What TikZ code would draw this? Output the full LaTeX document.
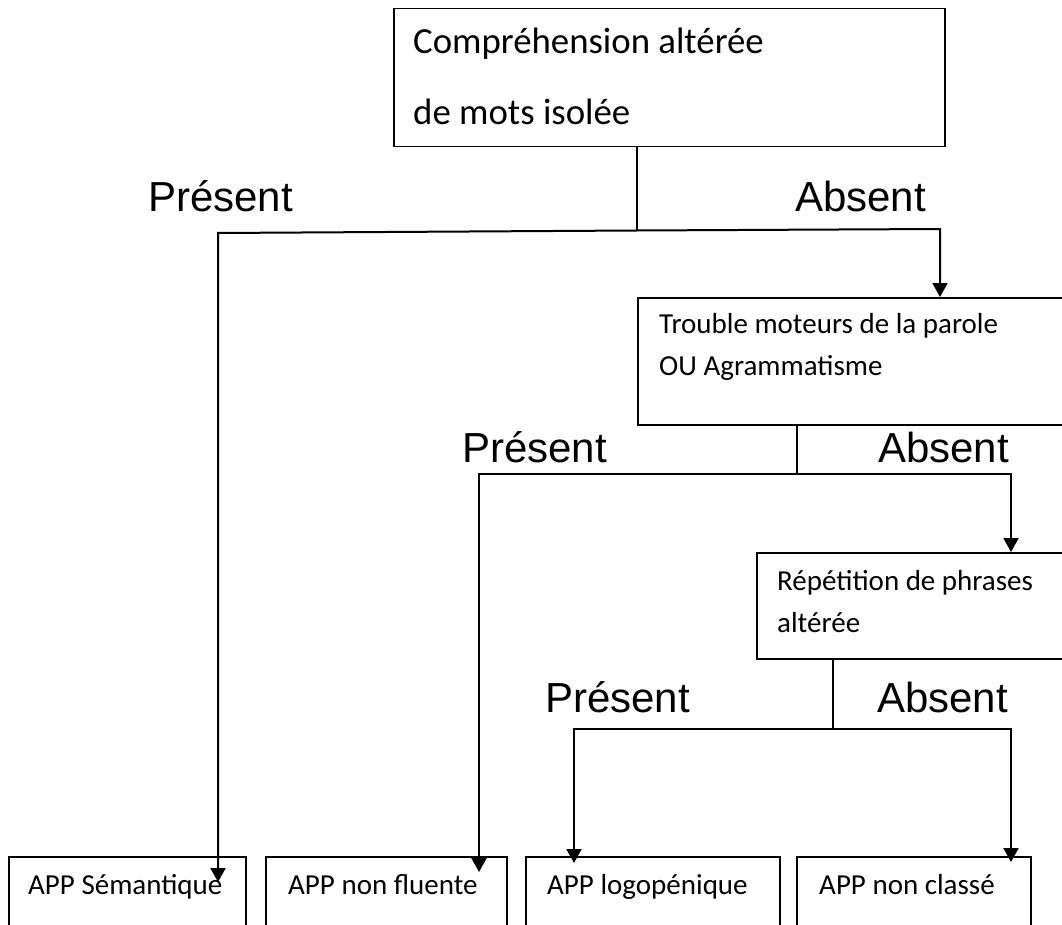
\documentclass[tikz,border=0pt]{standalone}
\usepackage{fontspec}
\setmainfont{Carlito}
\newfontfamily\arialf{Liberation Sans}
\usetikzlibrary{arrows.meta}
\begin{document}
\begin{tikzpicture}[x=1pt,y=-1pt,
  box/.style={draw,line width=1.5pt,rectangle,inner sep=0pt,anchor=north west},
  txt/.style={anchor=base west,inner sep=0pt,font=\fontsize{29}{35}\selectfont},
  bigtxt/.style={anchor=base west,inner sep=0pt,font=\fontsize{36.8}{44}\selectfont},
  lbl/.style={anchor=base west,inner sep=0pt,font=\arialf\fontsize{42}{50}\selectfont},
  conn/.style={line width=2pt},
  arr/.style={line width=2pt,-{Triangle[length=14pt,width=15pt]}}]
\useasboundingbox (0,0) rectangle (1062,925);
\clip (0,0) rectangle (1062,925);
% boxes
\node[box,minimum width=551pt,minimum height=138pt] (top) at (393,8) {};
\node[box,minimum width=440pt,minimum height=127pt] (trouble) at (637,297) {};
\node[box,minimum width=320pt,minimum height=106pt] (repet) at (756,552) {};
\node[box,minimum width=237pt,minimum height=100pt] (sem) at (8,856) {};
\node[box,minimum width=241pt,minimum height=100pt] (nonflu) at (265,856) {};
\node[box,minimum width=254pt,minimum height=100pt] (logo) at (525,856) {};
\node[box,minimum width=234pt,minimum height=100pt] (noncl) at (796,856) {};
% texts
\node[bigtxt] (tA) at (413,54) {Compréhension altérée};
\node[bigtxt] (tB) at (413,125) {de mots isolée};
\node[txt] (trA) at (659,333) {Trouble moteurs de la parole};
\node[txt] (trB) at (659,375) {OU Agrammatisme};
\node[txt] (reA) at (777,590) {Répétition de phrases};
\node[txt] (reB) at (777,632) {altérée};
\node[txt] (semT) at (28,894) {APP Sémantique};
\node[txt] (nfT) at (288,894) {APP non fluente};
\node[txt] (lgT) at (547,894) {APP logopénique};
\node[txt] (ncT) at (819,894) {APP non classé};
% labels
\node[lbl] (p1) at (148,212) {Présent};
\node[lbl] (a1) at (795,212) {Absent};
\node[lbl] (p2) at (462,462) {Présent};
\node[lbl] (a2) at (878,462) {Absent};
\node[lbl] (p3) at (545,712) {Présent};
\node[lbl] (a3) at (877,712) {Absent};
% junctions
\coordinate (j1L) at (218,233);
\coordinate (j1R) at (940,229);
\coordinate (j1M) at (637,230.5);
\coordinate (t1) at (218,882);
\coordinate (j2L) at (479,474);
\coordinate (j2R) at (1011,474);
\coordinate (j2M) at (797,474);
\coordinate (t2) at (479,872);
\coordinate (j3L) at (574,729);
\coordinate (j3R) at (1011,729);
\coordinate (j3M) at (833,729);
\coordinate (t3) at (574,863);
\coordinate (t4) at (1011,862);
% connectors
\draw[conn] (top.south -| j1M) -- (j1M);
\draw[arr] (j1M) -- (j1L) -- (t1);
\draw[arr] (j1M) -- (j1R) -- (j1R |- trouble.north);
\draw[conn] (trouble.south -| j2M) -- (j2M);
\draw[arr] (j2M) -- (j2L) -- (t2);
\draw[arr] (j2M) -- (j2R) -- (j2R |- repet.north);
\draw[conn] (repet.south -| j3M) -- (j3M);
\draw[arr] (j3M) -- (j3L) -- (t3);
\draw[arr] (j3M) -- (j3R) -- (t4);
\end{tikzpicture}
\end{document}
